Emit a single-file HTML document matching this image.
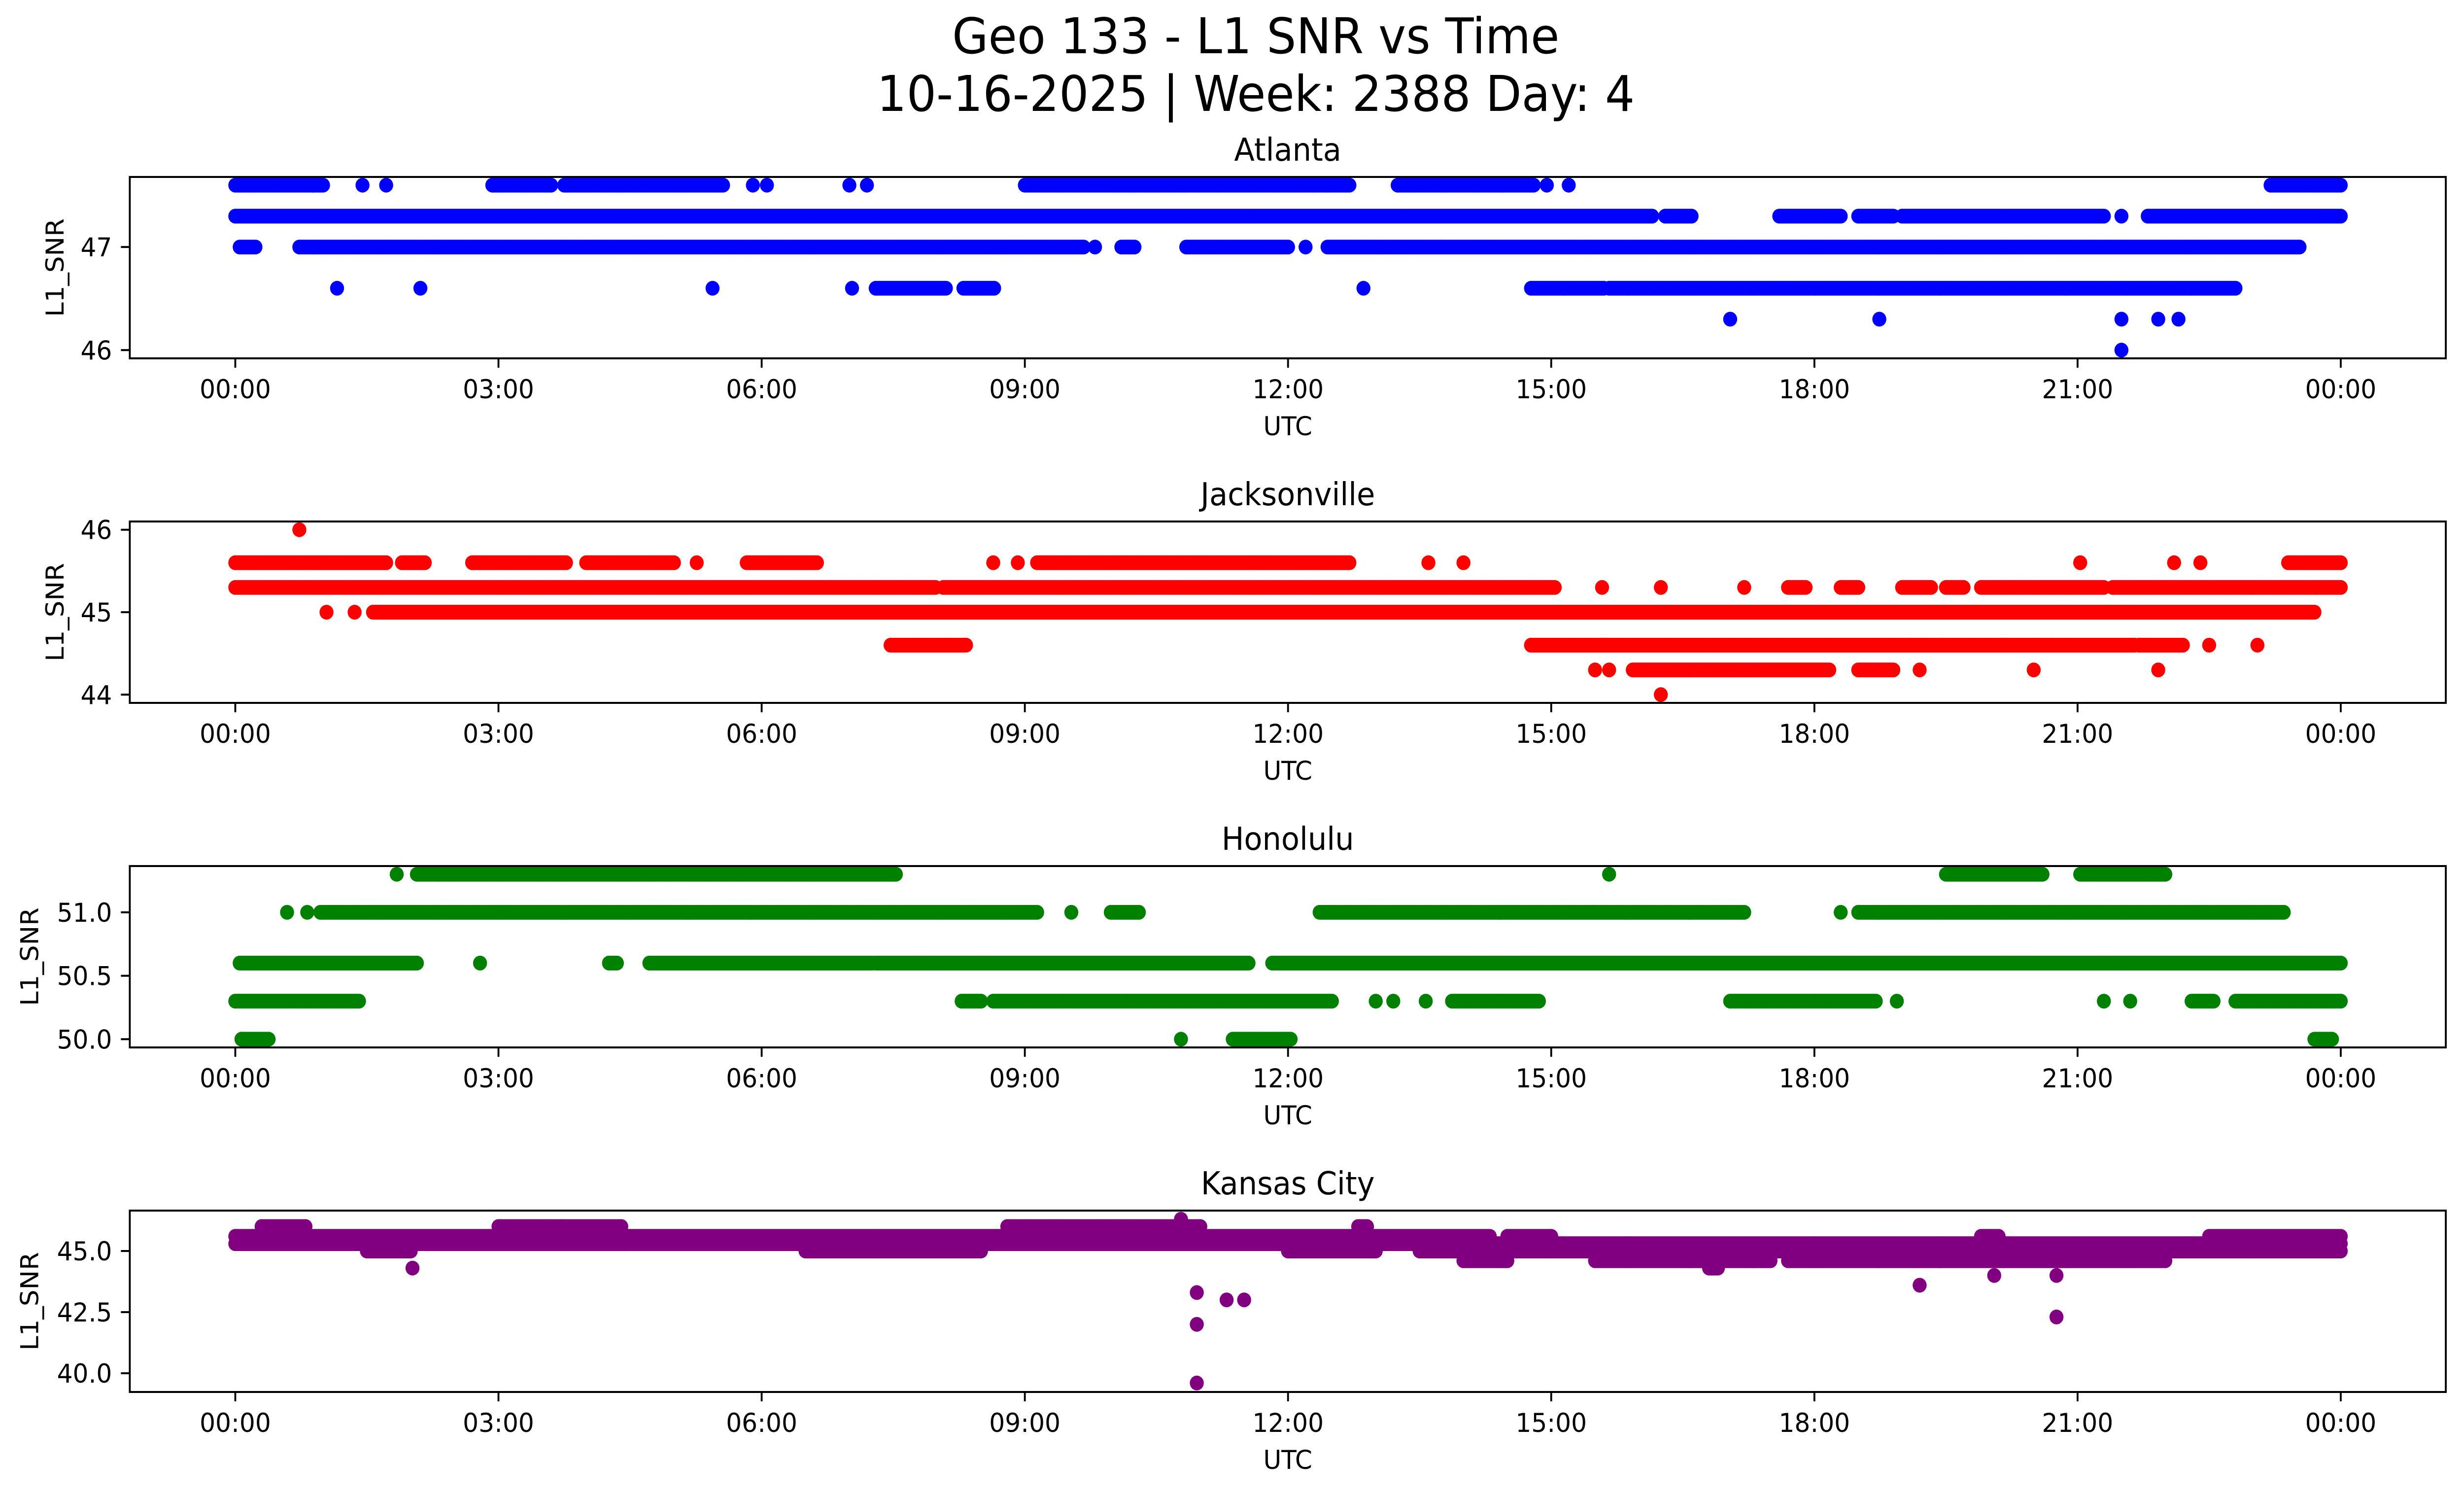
<!DOCTYPE html>
<html><head><meta charset="utf-8"><style>
html,body{margin:0;padding:0;background:#fff;width:100%;height:100%;overflow:hidden}
svg{display:block;position:fixed;left:0;top:0;width:100vw;height:100vh}
text{font-family:"DejaVu Sans","Liberation Sans",sans-serif;fill:#000}
</style></head><body>
<svg id="chart" viewBox="0 0 5278 3033" preserveAspectRatio="none" xmlns="http://www.w3.org/2000/svg">
<rect width="5278" height="3033" fill="#fff"/>
<text x="2690" y="108" font-size="100" text-anchor="middle">Geo 133 - L1 SNR vs Time</text>
<text x="2690" y="225" font-size="100" text-anchor="middle">10-16-2025 | Week: 2388 Day: 4</text>
</svg>
<script>
// x-axis tick data (hours) and labels
const xTickHours = [0,3,6,9,12,15,18,21,24];
const xTickLabels = ["00:00","03:00","06:00","09:00","12:00","15:00","18:00","21:00","00:00"];
// station names
const stations = ["Atlanta","Jacksonville","Honolulu","Kansas City"];
const stationColors = ["#0000ff","#ff0000","#008000","#800080"];
// y ranges and ticks
const yDomains = [[45.92,47.68],[43.9,46.1],[49.935,51.365],[39.233,46.653]];
const yTicks = [[46,47],[44,45,46],[50.0,50.5,51.0],[40.0,42.5,45.0]];
const yTickLabels = [["46","47"],["44","45","46"],["50.0","50.5","51.0"],["40.0","42.5","45.0"]];
// series segments: [snr, startHour, endHour]
const atlantaSegments = [
 [47.6,0,1.0],[47.6,1.45,1.45],[47.6,1.72,1.72],[47.6,2.93,3.6],[47.6,3.75,5.56],[47.6,5.9,5.9],[47.6,6.06,6.06],[47.6,7.0,7.0],[47.6,7.2,7.2],[47.6,9.0,12.7],[47.6,13.25,14.8],[47.6,14.95,14.95],[47.6,15.2,15.2],[47.6,23.2,24],
 [47.3,0,16.15],[47.3,16.3,16.6],[47.3,17.6,18.3],[47.3,18.5,18.9],[47.3,19.0,21.3],[47.3,21.5,21.5],[47.3,21.8,24],
 [47.0,0.05,0.23],[47.0,0.73,9.67],[47.0,9.8,9.8],[47.0,10.1,10.25],[47.0,10.84,12.0],[47.0,12.2,12.2],[47.0,12.45,23.53],
 [46.6,1.16,1.16],[46.6,2.11,2.11],[46.6,5.44,5.44],[46.6,7.03,7.03],[46.6,7.3,8.1],[46.6,8.3,8.65],[46.6,12.86,12.86],[46.6,14.77,15.6],[46.6,15.66,22.8],
 [46.3,17.04,17.04],[46.3,18.74,18.74],[46.3,21.5,21.5],[46.3,21.92,21.92],[46.3,22.15,22.15],
 [46.0,21.5,21.5]
];
const jacksonvilleSegments = [
 [46.0,0.73,0.73],
 [45.6,0,1.72],[45.6,1.9,2.16],[45.6,2.7,3.77],[45.6,4.0,5.0],[45.6,5.26,5.26],[45.6,5.83,6.63],[45.6,8.64,8.64],[45.6,8.92,8.92],[45.6,9.14,12.7],[45.6,13.6,13.6],[45.6,14.0,14.0],[45.6,21.03,21.03],[45.6,22.1,22.1],[45.6,22.4,22.4],[45.6,23.4,24],
 [45.3,0,7.98],[45.3,8.07,15.04],[45.3,15.58,15.58],[45.3,16.25,16.25],[45.3,17.2,17.2],[45.3,17.7,17.9],[45.3,18.3,18.5],[45.3,19.0,19.33],[45.3,19.5,19.7],[45.3,19.9,21.3],[45.3,21.4,24],
 [45.0,1.04,1.04],[45.0,1.36,1.36],[45.0,1.57,23.7],
 [44.6,7.47,8.33],[44.6,14.77,21.65],[44.6,21.7,22.2],[44.6,22.5,22.5],[44.6,23.05,23.05],
 [44.3,15.5,15.5],[44.3,15.66,15.66],[44.3,15.93,18.17],[44.3,18.5,18.9],[44.3,19.2,19.2],[44.3,20.5,20.5],[44.3,21.92,21.92],
 [44.0,16.25,16.25]
];
const honoluluSegments = [
 [51.3,1.84,1.84],[51.3,2.07,7.53],[51.3,15.66,15.66],[51.3,19.5,20.6],[51.3,21.03,22.0],
 [51.0,0.59,0.59],[51.0,0.82,0.82],[51.0,0.97,9.14],[51.0,9.53,9.53],[51.0,9.98,10.3],[51.0,12.36,17.2],[51.0,18.3,18.3],[51.0,18.5,23.35],
 [50.6,0.05,2.07],[50.6,2.79,2.79],[50.6,4.26,4.35],[50.6,4.72,7.26],[50.6,7.3,11.55],[50.6,11.82,24],
 [50.3,0,1.41],[50.3,8.28,8.5],[50.3,8.64,12.5],[50.3,13.0,13.0],[50.3,13.2,13.2],[50.3,13.57,13.57],[50.3,13.87,14.86],[50.3,17.04,18.7],[50.3,18.94,18.94],[50.3,21.3,21.3],[50.3,21.6,21.6],[50.3,22.3,22.55],[50.3,22.8,24],
 [50.0,0.07,0.38],[50.0,10.78,10.78],[50.0,11.37,12.03],[50.0,23.7,23.9]
];
const kansasSegments = [
 [45.3,0,24],
 [45.6,0,14.3],[45.6,14.5,15.0],[45.6,19.9,20.1],[45.6,22.5,24],
 [46.0,0.3,0.8],[46.0,3.0,4.4],[46.0,8.8,11.0],[46.0,12.8,12.9],[46.3,10.78,10.78],
 [45.0,1.5,2.0],[45.0,6.5,8.5],[45.0,12.0,13.0],[45.0,13.5,24],
 [44.6,14.0,14.5],[44.6,15.5,17.5],[44.6,17.7,22.0],
 [44.3,16.8,16.9],[44.3,2.02,2.02],[44.0,20.05,20.05],[44.0,20.76,20.76],
 [43.3,10.96,10.96],[42.0,10.96,10.96],[39.6,10.96,10.96],[43.0,11.3,11.3],[43.0,11.5,11.5],[43.6,19.2,19.2],[42.3,20.76,20.76]
];
const allSegments = [atlantaSegments,jacksonvilleSegments,honoluluSegments,kansasSegments];

const NS="http://www.w3.org/2000/svg";
const svg=document.getElementById('chart');
const AX_L=278, AX_R=5239, AX_H=368;
const axTops=[359,1058,1757,2456];
const X0=504, X24=5014;
function xScale(h){return X0+(X24-X0)*h/24;}
function yScaleFor(i){const d=yDomains[i],t=axTops[i];return v=>t+AX_H-(v-d[0])/(d[1]-d[0])*AX_H;}
function mk(tag,attrs,parent){const e=document.createElementNS(NS,tag);for(const k in attrs)e.setAttribute(k,attrs[k]);(parent||svg).appendChild(e);return e;}

for(let i=0;i<4;i++){
  const top=axTops[i], bot=top+AX_H, ys=yScaleFor(i);
  const g=mk('g',{});
  
  
  const pts=mk('g',{fill:stationColors[i]},g);
  
  
  for(const s of allSegments[i]){
    const v=s[0],a=s[1],b=s[2];
    const n=Math.max(1,Math.round((b-a)/0.02));
    for(let k=0;k<=n;k++){
      const h=a+(b-a)*k/n;
      const c=mk('circle',{cx:xScale(h).toFixed(1),cy:ys(v).toFixed(1),r:15},pts);
      
      
      if(b===a)break;
    }
  }
  const frame=mk('rect',{x:AX_L,y:top,width:AX_R-AX_L,height:AX_H,fill:'none',stroke:'#000','stroke-width':4},g);
  
  
  for(let k=0;k<xTickHours.length;k++){
    const x=xScale(xTickHours[k]);
    mk('line',{x1:x,x2:x,y1:bot,y2:bot+19,stroke:'#000','stroke-width':4},g);
    const t=mk('text',{x:x,y:bot+81,'font-size':53,'text-anchor':'middle'},g);
    t.textContent=xTickLabels[k];
    
    
  }
  for(let k=0;k<yTicks[i].length;k++){
    const y=ys(yTicks[i][k]);
    mk('line',{x1:AX_L-19,x2:AX_L,y1:y,y2:y,stroke:'#000','stroke-width':4},g);
    const t=mk('text',{x:240,y:y+19,'font-size':53,'text-anchor':'end'},g);
    t.textContent=yTickLabels[i][k];
    
    
  }
  const xl=mk('text',{x:(AX_L+AX_R)/2,y:bot+156,'font-size':53,'text-anchor':'middle'},g);
  xl.textContent='UTC';
  
  
  const ylx = i<2 ? 136 : 82;
  const yl=mk('text',{x:ylx,y:top+AX_H/2,'font-size':53,'text-anchor':'middle',transform:`rotate(-90 ${ylx} ${top+AX_H/2})`},g);
  yl.textContent='L1_SNR';
  
  
  const tt=mk('text',{x:(AX_L+AX_R)/2,y:top-33,'font-size':64,'text-anchor':'middle'},g);
  tt.textContent=stations[i];
  
  
}
</script>
</body></html>
